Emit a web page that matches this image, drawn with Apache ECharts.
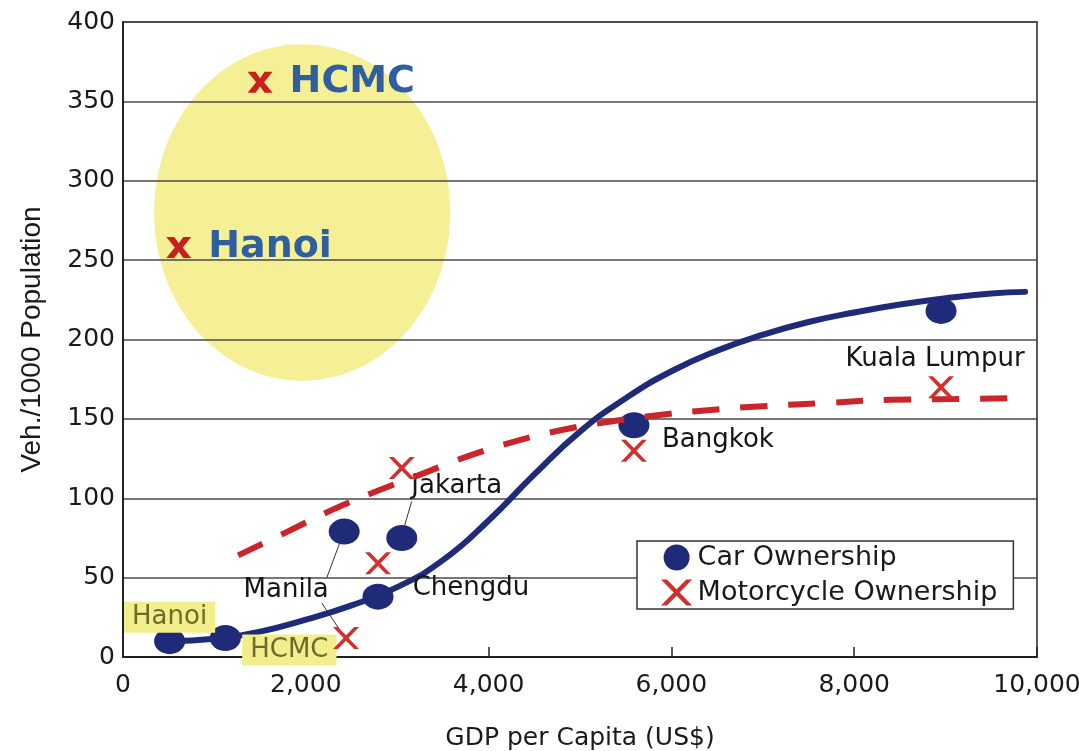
<!DOCTYPE html>
<html>
<head>
<meta charset="utf-8">
<script src="https://cdn.jsdelivr.net/npm/echarts@6/dist/echarts.min.js"></script>
<style>
html,body{margin:0;padding:0;background:#fff;}
#chart{width:1079px;height:751px;}
</style>
</head>
<body>
<div id="chart"></div>
<script>
// ---- data ----
const carCities = ['Hanoi', 'HCMC', 'Manila', 'Chengdu', 'Jakarta', 'Bangkok', 'Kuala Lumpur'];
const carGdp = [510, 1120, 2420, 2790, 3050, 5590, 8950];
const carPerK = [10, 12, 79, 38, 75, 146, 218];

const motoCities = ['Manila', 'Chengdu', 'Jakarta', 'Bangkok', 'Kuala Lumpur'];
const motoGdp = [2440, 2790, 3050, 5590, 8950];
const motoPerK = [12, 59, 119, 130, 170];

const vnCities = ['Hanoi', 'HCMC'];
const vnGdp = [610, 1500];
const vnMotoPerK = [258, 362];

const carTrendGdp = [510, 1000, 1500, 2000, 2500, 3000, 3500, 4000, 4500, 5000, 5500, 6000, 6500, 7000, 7500, 8000, 8500, 9000, 9500, 9870];
const carTrendVal = [10, 11.5, 16, 23.5, 32.5, 44, 61, 86, 115, 142, 163, 180, 193, 203, 211, 217, 222, 226, 229, 230];

const motoTrendGdp = [1260, 1800, 2300, 2800, 3300, 3800, 4300, 4800, 5300, 5800, 6300, 7000, 7700, 8400, 9100, 9700];
const motoTrendVal = [64, 79, 93, 105, 116, 127, 136, 143, 148, 152, 155, 158, 160, 162, 162.5, 163];

const xTicks = [0, 2000, 4000, 6000, 8000, 10000];
const yTicks = [0, 50, 100, 150, 200, 250, 300, 350, 400];

// ---- styles ----
const NAVY = '#1f2b78';
const RED = '#c9252b';
const FONT = 'DejaVu Sans';
const xThin = 'path://M0,0 H4.5 L12,7.5 L19.5,0 H24 L14.3,10 L24,20 H19.5 L12,12.5 L4.5,20 H0 L9.7,10 Z';
const xBold = 'path://M0,0 H8 L12.5,6 L17,0 H25 L16.5,10 L25,20 H17 L12.5,14 L8,20 H0 L8.5,10 Z';

const carLabelStyle = {
  'Hanoi': {offset: [0, -24], box: true},
  'HCMC': {offset: [64, 12], box: true},
  'Manila': {offset: [-58, 59]},
  'Chengdu': {offset: [93, -8]},
  'Jakarta': {offset: [55, -52]},
  'Bangkok': {offset: [84, 15]},
  'Kuala Lumpur': {offset: [-6, 48]}
};

const carData = carCities.map((c, i) => {
  const s = carLabelStyle[c];
  const label = {
    show: true, position: 'inside', formatter: c, offset: s.offset,
    fontFamily: FONT, fontSize: 26, color: '#151515'
  };
  if (s.box) {
    Object.assign(label, {backgroundColor: '#f3ee8c', color: '#6d6a2c', padding: [3, 8, 2, 8], fontSize: 26});
  }
  return {name: c, value: [carGdp[i], carPerK[i]], label: label};
});
const motoData = motoCities.map((c, i) => ({name: c, value: [motoGdp[i], motoPerK[i]]}));
const vnData = vnCities.map((c, i) => ({name: c, value: [vnGdp[i], vnMotoPerK[i]]}));
const carTrend = carTrendGdp.map((g, i) => [g, carTrendVal[i]]);
const motoTrend = motoTrendGdp.map((g, i) => [g, motoTrendVal[i]]);

const chart = echarts.init(document.getElementById('chart'), null, {renderer: 'canvas'});
chart.setOption({
  animation: false,
  backgroundColor: '#fff',
  textStyle: {fontFamily: FONT},
  grid: {
    left: 123, right: 42, top: 22, bottom: 94,
    show: true, borderColor: '#222', borderWidth: 1.5,
    containLabel: false, outerBoundsMode: 'none'
  },
  legend: {
    orient: 'vertical', left: 637, top: 541,
    backgroundColor: '#fff', borderColor: '#333', borderWidth: 1.5,
    padding: [3, 16, 3, 24], itemGap: 8, itemWidth: 32, itemHeight: 26,
    textStyle: {fontFamily: FONT, fontSize: 27, color: '#1a1a1a'},
    data: [
      {name: 'Car Ownership', icon: 'circle'},
      {name: 'Motorcycle Ownership', icon: xThin}
    ]
  },
  xAxis: {
    type: 'value', min: xTicks[0], max: xTicks[xTicks.length - 1], interval: xTicks[1] - xTicks[0],
    name: 'GDP per Capita (US$)', nameLocation: 'middle', nameGap: 69,
    nameTextStyle: {fontFamily: FONT, fontSize: 25, color: '#1a1a1a'},
    axisLine: {show: true, onZero: false, lineStyle: {color: '#111', width: 1.5}},
    axisTick: {show: true, inside: true, length: 10, lineStyle: {color: '#222', width: 1.5}},
    axisLabel: {
      fontFamily: FONT, fontSize: 25, color: '#1a1a1a', margin: 16,
      formatter: v => v.toLocaleString('en-US')
    },
    splitLine: {show: false}
  },
  yAxis: {
    type: 'value', min: yTicks[0], max: yTicks[yTicks.length - 1], interval: yTicks[1] - yTicks[0],
    name: 'Veh./1000 Population', nameLocation: 'middle', nameGap: 77, nameRotate: 90,
    nameTextStyle: {fontFamily: 'Liberation Sans', fontSize: 28, color: '#1a1a1a'},
    axisLine: {show: true, onZero: false, lineStyle: {color: '#111', width: 1.5}},
    axisTick: {show: false},
    axisLabel: {fontFamily: FONT, fontSize: 25, color: '#1a1a1a', margin: 8},
    splitLine: {show: true, lineStyle: {color: '#4a4a4a', width: 1.5}}
  },
  series: [
    {
      name: 'VN highlight', type: 'custom', z: -1, silent: true,
      renderItem: (params, api) => {
        const c = api.coord([api.value(0), api.value(1)]);
        const s = api.size([api.value(2), api.value(3)]);
        return {type: 'ellipse', shape: {cx: c[0], cy: c[1], rx: s[0], ry: s[1]}, style: {fill: '#f5ef96'}};
      },
      data: [[1960, 280, 1620, 106]]
    },
    {
      name: 'leaders', type: 'lines', coordinateSystem: 'cartesian2d', silent: true, z: 1,
      lineStyle: {color: '#333', width: 1, opacity: 1},
      data: [
        {coords: [[2372, 72], [2230, 50]]},
        {coords: [[2175, 34], [2372, 17]]},
        {coords: [[3158, 98], [3082, 83]]}
      ]
    },
    {
      name: 'Car trend', type: 'line', data: carTrend, smooth: 0.5,
      showSymbol: false, silent: true, z: 3,
      lineStyle: {color: NAVY, width: 6, cap: 'round'}
    },
    {
      name: 'Car Ownership', type: 'scatter', data: carData, z: 4,
      symbol: 'circle', symbolSize: [31, 26],
      itemStyle: {color: NAVY, opacity: 1}
    },
    {
      name: 'Motorcycle trend', type: 'line', data: motoTrend, smooth: 0.5,
      showSymbol: false, silent: true, z: 5,
      lineStyle: {color: RED, width: 6, type: [27, 21]}
    },
    {
      name: 'Motorcycle Ownership', type: 'scatter', data: motoData, z: 6,
      symbol: xThin, symbolSize: [26, 22],
      itemStyle: {color: '#d0312d', opacity: 1}
    },
    {
      name: 'Vietnam motorcycle', type: 'scatter', data: vnData, z: 6,
      symbol: xBold, symbolSize: [25, 21],
      itemStyle: {color: '#c8201e', opacity: 1},
      label: {
        show: true, position: 'right', distance: 17, formatter: '{b}',
        fontFamily: FONT, fontWeight: 'bold', fontSize: 38, color: '#2f5f9f'
      }
    }
  ]
});
</script>
</body>
</html>
